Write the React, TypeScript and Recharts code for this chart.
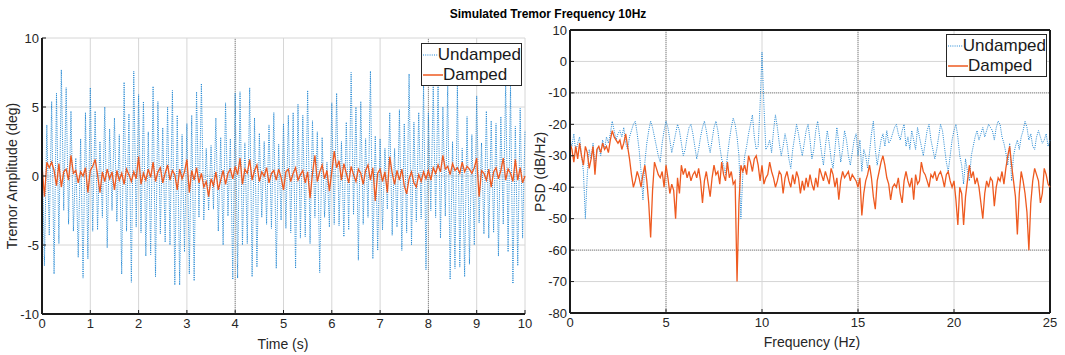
import { LineChart, Line, XAxis, YAxis, CartesianGrid, ReferenceLine } from "recharts";

// time series, sampled every 0.05 s (0 .. 10 s)
const TIME_STEP = 0.05;
const UNDAMPED = [
  2.5, -6.5, 3.7, -4.3, 5.4, -7.1, 6.0, -4.9, 7.7, -2.5, 6.4, -3.5, 4.7, -4.0, 1.3, -5.9, 2.7, -7.4, 4.6, -6.0,
  6.4, -4.0, 4.7, -3.9, 2.5, -3.0, 5.0, -5.2, 3.4, -2.5, 4.2, -3.3, 3.0, -7.1, 6.8, -4.0, 4.5, -7.7, 7.6, -3.7,
  5.9, -4.1, 5.4, -5.8, 3.2, -5.7, 6.5, -7.3, 5.4, -4.2, 3.5, -4.8, 5.0, -5.0, 6.2, -7.9, 4.4, -7.9, 3.0, -5.5,
  3.8, -7.1, 4.4, -7.6, 6.1, -3.0, 6.7, -3.2, 2.0, -2.5, 2.2, -2.4, 4.2, -4.0, 2.8, -5.0, 5.3, -2.9, 2.7, -7.5,
  6.0, -7.4, 6.1, -5.0, 2.4, -4.9, 6.4, -7.3, 4.2, -6.6, 3.1, -3.0, 2.5, -3.5, 3.7, -3.8, 4.6, -6.7, 2.3, -3.2,
  3.8, -3.8, 4.4, -4.1, 4.6, -6.7, 5.2, -4.5, 4.4, -4.4, 6.2, -4.9, 4.0, -3.0, 3.2, -7.0, 2.8, -3.0, 1.0, -3.7,
  5.3, -3.5, 6.0, -3.6, 2.5, -4.4, 3.9, -3.9, 7.5, -2.8, 5.0, -6.1, 5.4, -3.5, 2.7, -3.0, 7.6, -6.0, 2.9, -5.4,
  2.7, -3.9, 2.0, -2.4, 4.6, -4.3, 2.0, -3.7, 4.8, -5.4, 3.8, -4.1, 7.4, -5.0, 3.9, -3.3, 4.6, -3.1, 6.6, -6.8,
  4.6, -2.5, 6.5, -3.0, 6.5, -4.5, 5.0, -2.9, 6.5, -7.5, 2.5, -6.7, 6.5, -6.6, 2.0, -7.3, 4.3, -6.4, 3.0, -5.0,
  5.8, -3.4, 2.4, -4.2, 4.7, -4.5, 4.0, -4.1, 3.8, -5.8, 4.3, -3.5, 6.9, -5.5, 6.5, -7.8, 3.6, -6.5, 4.9, -4.5,
  3.3,
];
const DAMPED = [
  0.8, -1.5, 1.0, 0.6, 1.0, 0.4, -0.7, 0.9, -0.8, 0.3, 0.5, -0.3, 1.5, 0.2, 0.4, -0.5, 0.3, 0.0, 0.6, -1.2,
  0.4, 0.7, 1.2, 0.1, -1.2, 0.3, -0.4, 0.5, -0.2, 0.3, -1.0, 0.4, -0.3, 0.2, -0.6, 0.5, 0.1, -0.4, 0.3, -0.2,
  1.4, -0.6, 0.2, -0.3, 0.5, -0.1, 1.0, -0.4, 0.3, 0.6, -0.5, 0.2, 0.8, -0.3, 0.4, 0.1, -1.0, 0.5, -0.2, 0.3,
  1.2, -1.2, 0.4, -0.3, 0.6, -0.5, 0.2, -0.8, -0.4, -1.5, -0.2, -0.7, 0.3, -1.0, -0.3, 0.4, -0.6, 0.2, 0.5, -0.2,
  0.7, 0.1, 1.3, -0.6, 0.5, 0.2, 1.2, -0.3, 0.4, 0.8, -0.4, 0.3, 0.0, 0.6, -0.5, 0.2, 0.4, -0.3, 0.5, -0.1,
  -1.0, 0.3, 0.5, -0.4, 0.2, 0.6, -0.3, 0.1, 0.4, -0.5, 0.3, -1.6, 0.2, 1.5, -0.4, 0.3, 0.8, -0.2, 0.4, -1.1,
  0.3, 1.8, 0.6, 1.1, -0.3, 0.9, 0.2, -0.5, 0.7, 0.1, -0.4, 0.5, 0.2, -0.6, 0.4, 0.8, -0.3, 0.6, -1.8, 0.2,
  0.5, -0.4, 0.3, -1.2, 1.4, 0.2, -0.6, 0.4, -0.3, 0.5, -0.7, -1.3, -0.2, 0.3, -0.5, -0.8, 0.1, -0.4, 0.3, -0.2,
  0.4, -0.3, 0.6, 0.2, 0.8, 0.3, 1.5, 0.5, 0.7, 0.1, 0.9, 0.4, 0.6, 0.2, 1.0, 0.3, 0.7, 0.5, 0.2, 0.6,
  1.3, -1.5, 0.4, 0.2, -0.3, 0.5, -0.8, 0.3, 0.6, -0.2, 0.4, 1.3, -0.3, 0.5, 0.2, -0.4, 1.2, -0.3, 0.6, -0.5,
  0.0,
];

// PSD, one value every 0.1 Hz (0 .. 25 Hz), dB/Hz
const FREQ_STEP = 0.1;
const PSD_UNDAMPED = [
  -25, -27, -23, -29, -26, -24, -30, -35, -50, -36,
  -28, -31, -26, -33, -29, -27, -30, -25, -28, -24,
  -26, -23, -19, -22, -25, -23, -22, -24, -21, -26,
  -28, -24, -22, -20, -19, -23, -28, -35, -44, -32,
  -26, -22, -19, -21, -24, -27, -30, -32, -26, -22,
  -19, -21, -25, -29, -26, -23, -20, -22, -26, -30,
  -28, -24, -21, -20, -23, -27, -31, -28, -24, -21,
  -19, -22, -26, -29, -25, -21, -19, -22, -27, -31,
  -33, -36, -30, -25, -21, -18, -20, -24, -30, -50,
  -36, -30, -27, -23, -20, -17, -24, -28, -27, -14,
  3, -14, -28, -27, -25, -29, -22, -17, -21, -26,
  -30, -27, -23, -26, -31, -34, -28, -24, -20, -23,
  -27, -30, -26, -22, -20, -25, -31, -28, -22, -19,
  -24, -29, -33, -27, -22, -26, -31, -34, -28, -21,
  -26, -32, -28, -22, -25, -30, -33, -29, -25, -23,
  -30, -25, -35, -28, -30, -34, -29, -23, -19, -28,
  -33, -29, -25, -23, -27, -22, -26, -25, -23, -21,
  -20, -23, -25, -22, -20, -27, -24, -28, -22, -25,
  -28, -21, -24, -27, -30, -26, -22, -20, -25, -28,
  -31, -28, -24, -20, -22, -27, -32, -35, -30, -25,
  -22, -20, -24, -30, -33, -39, -31, -35, -38, -30,
  -27, -24, -22, -25, -23, -21, -24, -22, -20, -21,
  -22, -25, -21, -19, -20, -24, -26, -29, -33, -26,
  -38, -30, -27, -25, -28, -24, -22, -19, -21, -25,
  -23, -27, -28, -24, -22, -24, -26, -25, -23, -27,
  -25,
];
const PSD_DAMPED = [
  -26, -28, -32, -27, -31, -26, -30, -33, -27, -29,
  -34, -31, -27, -36, -28, -27, -29, -26, -28, -27,
  -29, -25, -22, -24, -25, -26, -25, -28, -26, -23,
  -27, -31, -36, -40, -38, -35, -37, -40, -36, -33,
  -38, -45, -56, -41, -32, -34, -36, -37, -35, -40,
  -33, -37, -42, -39, -41, -50, -37, -42, -33, -36,
  -34, -37, -35, -38, -36, -35, -37, -34, -38, -45,
  -38, -35, -39, -43, -37, -33, -36, -35, -39, -32,
  -36, -38, -32, -37, -35, -39, -38, -70, -45, -33,
  -35, -33, -36, -30, -32, -35, -31, -30, -33, -38,
  -33, -39, -37, -36, -32, -35, -37, -40, -38, -35,
  -36, -42, -37, -35, -38, -40, -36, -39, -35, -37,
  -42, -38, -41, -37, -40, -36, -39, -41, -37, -40,
  -34, -36, -38, -35, -37, -39, -34, -36, -40, -37,
  -44, -38, -35, -37, -36, -35, -38, -36, -37, -38,
  -40, -37, -49, -42, -38, -36, -33, -37, -43, -47,
  -38, -35, -32, -30, -33, -37, -39, -44, -40, -39,
  -40, -37, -42, -45, -38, -35, -38, -40, -37, -44,
  -36, -39, -38, -32, -35, -36, -38, -40, -36, -37,
  -35, -38, -36, -35, -37, -40, -36, -35, -38, -40,
  -38, -44, -52, -40, -42, -52, -43, -38, -33, -37,
  -35, -39, -37, -40, -45, -50, -42, -38, -40, -37,
  -38, -46, -40, -37, -38, -35, -39, -34, -30, -27,
  -33, -38, -43, -55, -42, -35, -38, -42, -48, -60,
  -45, -38, -34, -36, -38, -45, -42, -34, -36, -39,
  -40,
];

const TIME_TICKS = [0, 1, 2, 3, 4, 5, 6, 7, 8, 9, 10];
const AMP_TICKS = [-10, -5, 0, 5, 10];
const FREQ_TICKS = [0, 5, 10, 15, 20, 25];
const PSD_TICKS = [-80, -70, -60, -50, -40, -30, -20, -10, 0, 10];

const BLUE = "#1f86d3";
const ORANGE = "#ee5a20";
const FONT = "'Liberation Sans', Arial, sans-serif";
const TEXT = "#262626";

const timeData = UNDAMPED.map((u, i) => ({
  t: Math.round(i * TIME_STEP * 100) / 100,
  undamped: u,
  damped: DAMPED[i],
}));

const psdData = PSD_UNDAMPED.map((u, i) => ({
  f: Math.round(i * FREQ_STEP * 10) / 10,
  undamped: u,
  damped: PSD_DAMPED[i],
}));

const dotted = { stroke: "#8a8a8a", strokeDasharray: "1 1", strokeWidth: 1 };

// MATLAB style: short tick marks pointing into the plot, labels close to the axis
const XTick = (props: any) => {
  const { x, y, payload } = props;
  return (
    <g>
      <line x1={x} y1={y - 2} x2={x} y2={y - 6} stroke="#1a1a1a" strokeWidth={1} />
      <text x={x} y={y + 12} textAnchor="middle" fill={TEXT} fontSize={13} fontFamily={FONT}>
        {payload.value}
      </text>
    </g>
  );
};

const YTick = (props: any) => {
  const { x, y, payload } = props;
  return (
    <g>
      <line x1={x + 2} y1={y} x2={x + 6} y2={y} stroke="#1a1a1a" strokeWidth={1} />
      <text x={x - 1} y={y + 4.5} textAnchor="end" fill={TEXT} fontSize={13} fontFamily={FONT}>
        {payload.value}
      </text>
    </g>
  );
};

const LegendBox = ({ left, top }: { left: number; top: number }) => (
  <div
    style={{
      position: "absolute",
      left,
      top,
      width: 101,
      height: 43,
      border: "1px solid #262626",
      background: "#fff",
      fontSize: 17,
      lineHeight: "20px",
      color: "#1a1a1a",
      boxSizing: "border-box",
      paddingTop: 1,
    }}
  >
    <div style={{ display: "flex", alignItems: "center" }}>
      <svg width={20} height={10} style={{ marginLeft: 1 }}>
        <line x1={0} y1={5} x2={20} y2={5} stroke={BLUE} strokeWidth={1} strokeDasharray="1 1.2" />
      </svg>
      <span>Undamped</span>
    </div>
    <div style={{ display: "flex", alignItems: "center" }}>
      <svg width={20} height={10} style={{ marginLeft: 1 }}>
        <line x1={0} y1={5} x2={20} y2={5} stroke={ORANGE} strokeWidth={1.5} />
      </svg>
      <span>Damped</span>
    </div>
  </div>
);

const labelStyle = {
  position: "absolute" as const,
  fontSize: 14,
  whiteSpace: "nowrap" as const,
  color: TEXT,
};

export default function App() {
  return (
    <div style={{ position: "relative", width: 1065, height: 355, fontFamily: FONT, background: "#fff" }}>
      <style>{"body{margin:0}"}</style>

      <div
        style={{
          position: "absolute",
          left: 548,
          top: 14,
          transform: "translate(-50%,-50%)",
          fontWeight: "bold",
          fontSize: 12,
          whiteSpace: "nowrap",
        }}
      >
        Simulated Tremor Frequency 10Hz
      </div>

      {/* time domain */}
      <div style={{ position: "absolute", left: 0, top: 0 }}>
        <LineChart width={540} height={355} data={timeData} margin={{ top: 38, right: 15, bottom: 0, left: 0 }}>
          <CartesianGrid stroke="#d6d6d6" strokeWidth={1} />
          <XAxis
            dataKey="t"
            type="number"
            domain={[0, 10]}
            ticks={TIME_TICKS}
            tick={<XTick />}
            tickLine={false}
            tickSize={0}
            tickMargin={2}
            height={41}
            axisLine={{ stroke: "#1a1a1a", strokeWidth: 2 }}
          />
          <YAxis
            type="number"
            domain={[-10, 10]}
            ticks={AMP_TICKS}
            tick={<YTick />}
            tickLine={false}
            tickSize={0}
            tickMargin={2}
            width={42}
            axisLine={{ stroke: "#1a1a1a", strokeWidth: 2 }}
          />
          <ReferenceLine x={4} {...dotted} />
          <ReferenceLine x={8} {...dotted} />
          <Line
            type="linear"
            dataKey="undamped"
            stroke={BLUE}
            strokeWidth={1}
            strokeDasharray="1 1.2"
            dot={false}
            isAnimationActive={false}
          />
          <Line
            type="linear"
            dataKey="damped"
            stroke={ORANGE}
            strokeWidth={1.3}
            dot={false}
            isAnimationActive={false}
          />
        </LineChart>
      </div>
      <LegendBox left={421} top={43} />
      <div style={{ ...labelStyle, left: 12, top: 176, transform: "translate(-50%,-50%) rotate(-90deg)" }}>
        Tremor Amplitude (deg)
      </div>
      <div style={{ ...labelStyle, left: 283, top: 344, transform: "translate(-50%,-50%)" }}>Time (s)</div>

      {/* frequency domain */}
      <div style={{ position: "absolute", left: 525, top: 0 }}>
        <LineChart width={540} height={355} data={psdData} margin={{ top: 30, right: 15, bottom: 0, left: 0 }}>
          <CartesianGrid stroke="#d6d6d6" strokeWidth={1} />
          <XAxis
            dataKey="f"
            type="number"
            domain={[0, 25]}
            ticks={FREQ_TICKS}
            tick={<XTick />}
            tickLine={false}
            tickSize={0}
            tickMargin={2}
            height={42}
            axisLine={{ stroke: "#1a1a1a", strokeWidth: 2 }}
          />
          <YAxis
            type="number"
            domain={[-80, 10]}
            ticks={PSD_TICKS}
            tick={<YTick />}
            tickLine={false}
            tickSize={0}
            tickMargin={2}
            width={45}
            axisLine={{ stroke: "#1a1a1a", strokeWidth: 2 }}
          />
          <ReferenceLine x={5} {...dotted} />
          <ReferenceLine x={15} {...dotted} />
          <ReferenceLine y={-10} {...dotted} />
          <ReferenceLine y={-60} {...dotted} />
          <ReferenceLine y={10} stroke="#1a1a1a" strokeWidth={2} />
          <ReferenceLine x={25} stroke="#1a1a1a" strokeWidth={2} />
          <Line
            type="linear"
            dataKey="undamped"
            stroke={BLUE}
            strokeWidth={1}
            strokeDasharray="1 1.2"
            dot={false}
            isAnimationActive={false}
          />
          <Line
            type="linear"
            dataKey="damped"
            stroke={ORANGE}
            strokeWidth={1.3}
            dot={false}
            isAnimationActive={false}
          />
        </LineChart>
      </div>
      <LegendBox left={946} top={34} />
      <div style={{ ...labelStyle, left: 540, top: 172, transform: "translate(-50%,-50%) rotate(-90deg)" }}>
        PSD (dB/Hz)
      </div>
      <div style={{ ...labelStyle, left: 812, top: 342, transform: "translate(-50%,-50%)" }}>Frequency (Hz)</div>
    </div>
  );
}
